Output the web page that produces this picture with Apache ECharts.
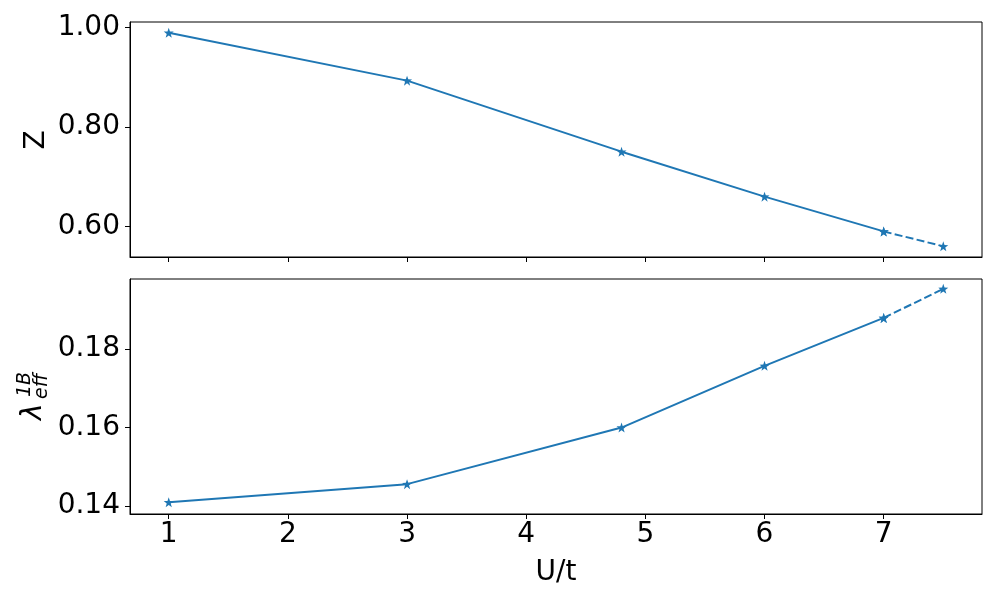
<!DOCTYPE html>
<html>
<head>
<meta charset="utf-8">
<script src="https://cdn.jsdelivr.net/npm/echarts@6/dist/echarts.min.js"></script>
<style>
  html, body { margin: 0; padding: 0; background: #fff; }
  #chart { width: 1000px; height: 600px; }
</style>
</head>
<body>
<div id="chart"></div>
<script>
// U/t values
const uValues = [1, 3, 4.8, 6, 7];
const uExtrap = [7, 7.5];
// quasiparticle weight Z
const zValues = [0.990, 0.8935, 0.7505, 0.660, 0.590];
const zExtrap = [0.590, 0.560];
// effective coupling lambda_eff^1B
const lamValues = [0.1410, 0.1456, 0.1600, 0.1757, 0.1879];
const lamExtrap = [0.1879, 0.1953];
// ticks
const xTicks = [1, 2, 3, 4, 5, 6, 7];
const zTicks = [0.6, 0.8, 1.0];
const lamTicks = [0.14, 0.16, 0.18];

const blue = '#1f77b4';
const font = 'DejaVu Sans';
const star = 'path://M0,-10 L2.35,-3.24 L9.51,-3.09 L3.8,1.24 L5.88,8.09 L0,4 L-5.88,8.09 L-3.8,1.24 L-9.51,-3.09 L-2.35,-3.24 Z';

const pairs = (xs, ys) => xs.map((x, i) => [x, ys[i]]);

function xAxisCfg(gridIndex, withLabels) {
    return {
        type: 'value',
        gridIndex: gridIndex,
        min: 0.675,
        max: 7.825,
        axisLine: { show: true, lineStyle: { color: '#000', width: 1 } },
        axisTick: { show: true, length: 5, customValues: xTicks, lineStyle: { color: '#000', width: 1 } },
        axisLabel: {
            show: withLabels,
            customValues: xTicks,
            margin: 7,
            fontSize: 28,
            fontFamily: font,
            color: '#000',
            formatter: v => String(v)
        },
        splitLine: { show: false },
        name: withLabels ? 'U/t' : '',
        nameLocation: 'middle',
        nameGap: 45,
        nameTextStyle: { fontSize: 28, fontFamily: font, color: '#000' }
    };
}

function yAxisCfg(gridIndex, min, max, ticks) {
    return {
        type: 'value',
        gridIndex: gridIndex,
        min: min,
        max: max,
        axisLine: { show: true, lineStyle: { color: '#000', width: 1 } },
        axisTick: { show: true, length: 5, customValues: ticks, lineStyle: { color: '#000', width: 1 } },
        axisLabel: {
            customValues: ticks,
            margin: 10,
            fontSize: 28,
            fontFamily: font,
            color: '#000',
            formatter: v => v.toFixed(2)
        },
        splitLine: { show: false }
    };
}

function lineSeries(xi, yi, data, dashed) {
    return {
        type: 'line',
        xAxisIndex: xi,
        yAxisIndex: yi,
        data: data,
        symbol: star,
        symbolSize: 10,
        showAllSymbol: true,
        itemStyle: { color: blue },
        lineStyle: { color: blue, width: 2, type: dashed ? [8, 3.3] : 'solid' },
        z: dashed ? 2 : 3
    };
}

const chart = echarts.init(document.getElementById('chart'), null, { renderer: 'canvas' });

chart.setOption({
    animation: false,
    backgroundColor: '#fff',
    grid: [
        { left: 130, right: 18, top: 22, height: 235, show: true, borderColor: '#000', borderWidth: 1, backgroundColor: 'transparent' },
        { left: 130, right: 18, top: 279, height: 235, show: true, borderColor: '#000', borderWidth: 1, backgroundColor: 'transparent' }
    ],
    xAxis: [xAxisCfg(0, false), xAxisCfg(1, true)],
    yAxis: [
        yAxisCfg(0, 0.5385, 1.0115, zTicks),
        yAxisCfg(1, 0.1380, 0.1978, lamTicks)
    ],
    series: [
        lineSeries(0, 0, pairs(uValues, zValues), false),
        lineSeries(0, 0, pairs(uExtrap, zExtrap), true),
        lineSeries(1, 1, pairs(uValues, lamValues), false),
        lineSeries(1, 1, pairs(uExtrap, lamExtrap), true)
    ],
    graphic: [
        {
            type: 'text',
            x: 37,
            y: 140,
            rotation: Math.PI / 2,
            style: { text: 'Z', font: '28px "DejaVu Sans"', fill: '#000', align: 'center', verticalAlign: 'middle' }
        },
        {
            type: 'group',
            x: 37,
            y: 398,
            rotation: Math.PI / 2,
            children: [
                {
                    type: 'text', x: -22, y: -3,
                    style: { text: 'λ', font: 'italic 28px "DejaVu Sans"', fill: '#000', align: 'left', verticalAlign: 'middle' }
                },
                {
                    type: 'text', x: 1, y: -12,
                    style: { text: '1B', font: 'italic 19px "DejaVu Sans"', fill: '#000', align: 'left', verticalAlign: 'middle' }
                },
                {
                    type: 'text', x: -1, y: 5,
                    style: { text: 'eff', font: 'italic 19px "DejaVu Sans"', fill: '#000', align: 'left', verticalAlign: 'middle' }
                }
            ]
        }
    ]
});
</script>
</body>
</html>
